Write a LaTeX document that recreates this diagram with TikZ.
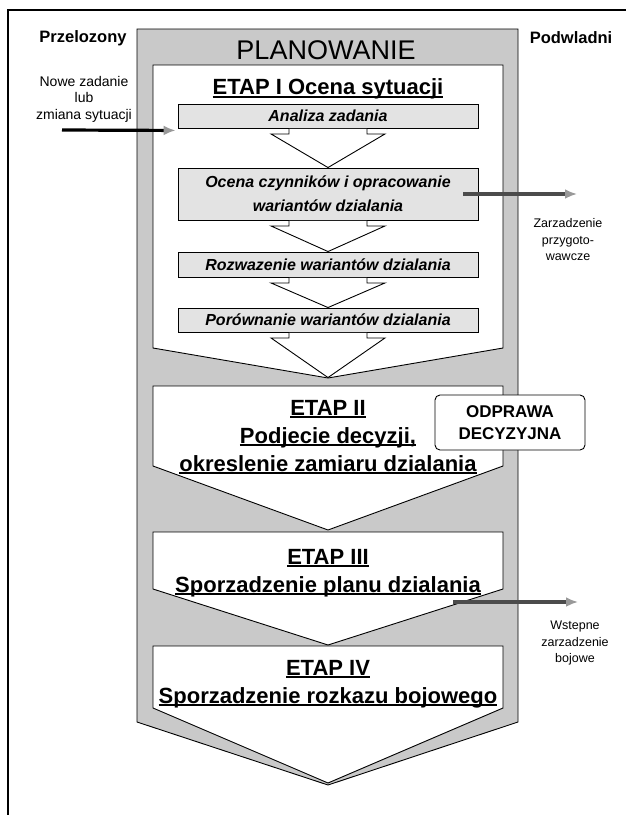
\documentclass[tikz,border=0pt]{standalone}
\usepackage{fontspec}
\setmainfont{Liberation Sans}
\usetikzlibrary{arrows.meta,calc}

\newcommand{\fsz}[2]{\fontsize{#1}{#2}\selectfont}
\newcommand{\ulbar}[1]{\setbox0\hbox{#1}\rlap{\rule[-3pt]{\wd0}{1.8pt}}\box0}

\begin{document}
\begin{tikzpicture}[x=1pt, y=-1pt, line width=0.9pt,
    stepbox/.style={draw, fill=gray!22, minimum width=300pt, minimum height=24pt, inner sep=0pt, align=center, font=\fsz{16}{24}\bfseries\itshape},
    etaptext/.style={align=center, font=\fsz{22}{28}\bfseries},
    sidelabel/.style={align=center, font=\fsz{12.5}{16.5}},
    flowarrow/.style={line width=3.2pt, -{Latex[length=12pt,width=10pt,color=gray!80]}}]
  \useasboundingbox (0,0) rectangle (626,815);
  \draw[line width=1.2pt] (8,815) -- (8,10) -- (626,10);
  % grey band and the four white stages
  \draw[fill=gray!42] (137,29) -- (518,29) -- (518,722) -- (328,785) -- (137,722) -- cycle;
  \foreach \top/\side/\tip in {65/348/378, 386/466/530, 532/589/645, 646/708/783}
    \draw[fill=white] (153,\top) -- (503,\top) -- (503,\side) -- (328,\tip) -- (153,\side) -- cycle;
  \node[inner sep=0pt, minimum size=0pt] (tip1) at (328,378) {};

  \node (plan) at (326,50.5) {\fsz{27}{30}PLANOWANIE};
  \node[etaptext] (etap1) at (328,89) {\ulbar{ETAP I Ocena sytuacji}};
  \node[stepbox] (analiza) at (328,116) {Analiza zadania};
  \node[stepbox, minimum height=52pt] (ocena) at (328,194) {Ocena czynników i opracowanie\\wariantów dzialania};
  \node[stepbox, minimum height=25pt] (rozwaz) at (328,264.5) {Rozwazenie wariantów dzialania};
  \node[stepbox] (porown) at (328,320) {Porównanie wariantów dzialania};
  \foreach \a/\b in {analiza/ocena, ocena/rozwaz, rozwaz/porown, porown/tip1}
    \draw[fill=white] ($(\a.south)+(-39,0.5)$) -- ++(0,5) -- ++(-18,0) -- (\b.north)
      -- ($(\a.south)+(57,5.5)$) -- ++(-18,0) -- ++(0,-5);

  \node[etaptext] (etap2) at (328,437) {\ulbar{ETAP II}\\\ulbar{Podjecie decyzji,}\\\ulbar{okreslenie zamiaru dzialania}};
  \node[etaptext] (etap3) at (328,573) {\ulbar{ETAP III}\\\ulbar{Sporzadzenie planu dzialania}};
  \node[etaptext] (etap4) at (328,684) {\ulbar{ETAP IV}\\\ulbar{Sporzadzenie rozkazu bojowego}};
  \node[draw, fill=white, rounded corners=5pt, minimum width=150pt, minimum height=55pt, align=center, font=\fsz{17}{22}\bfseries] (odprawa) at (510,422.5) {ODPRAWA\\DECYZYJNA};

  % who gives and who receives
  \node[font=\fsz{16.5}{20}\bfseries] (przel) at (83,38) {Przelozony};
  \node[font=\fsz{16.5}{20}\bfseries] (podwl) at (571,38) {Podwladni};
  \node[align=center, font=\fsz{14}{16.5}] (nowe) at (84,99) {Nowe zadanie\\lub\\zmiana sytuacji};
  \coordinate (newtask) at (62,130);
  \draw[flowarrow] (newtask) -- ($(analiza.south west)+(-2,2)$);
  \coordinate (zarzend) at (577,194);
  \draw[flowarrow, draw=black!70] ($(ocena.east)+(-15,0)$) -- (zarzend);
  \node[sidelabel] (zarz) at (568,240) {Zarzadzenie\\przygoto-\\wawcze};
  \coordinate (planout) at (453,602);
  \coordinate (wstend) at (578,602);
  \draw[flowarrow, draw=black!70] (planout) -- (wstend);
  \node[sidelabel] (wst) at (575,643) {Wstepne\\zarzadzenie\\bojowe};
\end{tikzpicture}
\end{document}
